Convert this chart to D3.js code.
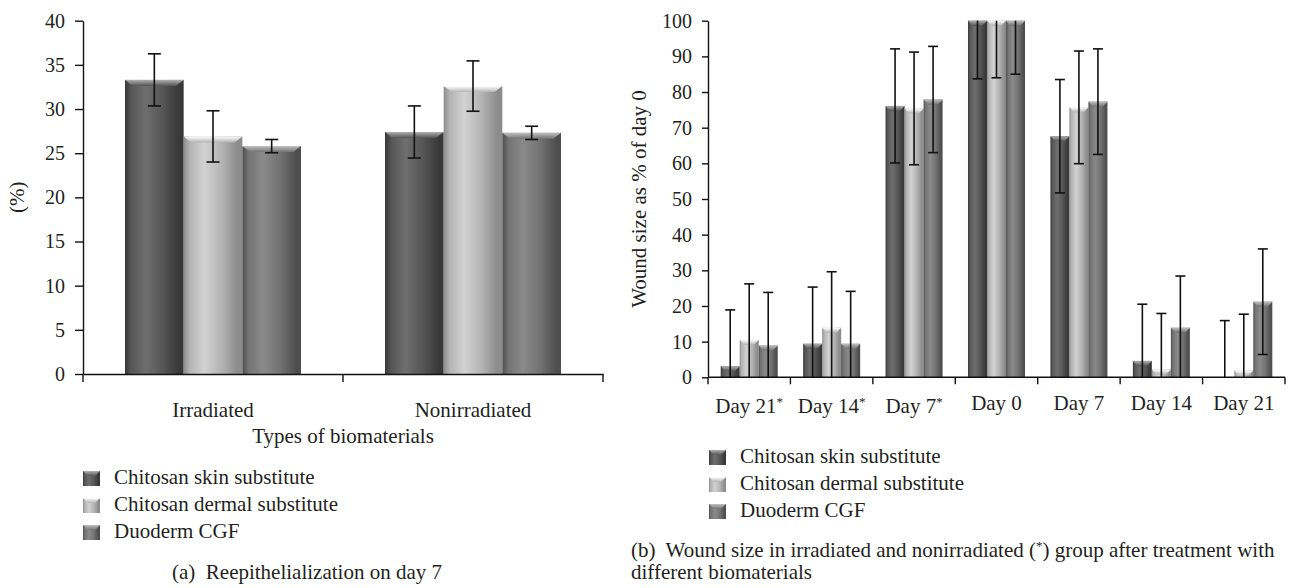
<!DOCTYPE html>
<html><head><meta charset="utf-8">
<script src="https://cdn.jsdelivr.net/npm/d3@7/dist/d3.min.js"></script>
<style>
body{margin:0;background:#fff;}
svg{display:block;}
svg text{fill:#231f20;font-family:"Liberation Serif","DejaVu Serif",serif !important;}
</style></head>
<body><svg id="c" width="1299" height="588"></svg>
<script>
// ---------- data ----------
const seriesNames = ["Chitosan skin substitute","Chitosan dermal substitute","Duoderm CGF"];
// chart (a)
const catsA = ["Irradiated","Nonirradiated"];
const skinA = [33.3, 27.4];
const dermalA = [26.9, 32.6];
const duoA = [25.8, 27.3];
const skinErrA = [2.95, 2.95];
const dermalErrA = [2.9, 2.85];
const duoErrA = [0.75, 0.75];
const ticksA = [0,5,10,15,20,25,30,35,40];
// chart (b)
const catsB = ["Day 21","Day 14","Day 7","Day 0","Day 7","Day 14","Day 21"];
const starredB = [true,true,true,false,false,false,false];
const skinB = [3.1, 9.4, 76.1, 100, 67.6, 4.6, 0];
const dermalB = [10.5, 13.9, 75.4, 100, 75.7, 2.2, 1.9];
const duoB = [8.9, 9.4, 77.9, 100, 77.3, 13.9, 21.2];
const skinErrB = [15.8, 15.9, 16.0, 16.3, 15.9, 15.9, 15.9];
const dermalErrB = [15.7, 15.7, 15.8, 16.0, 15.8, 15.7, 15.8];
const duoErrB = [14.9, 14.7, 14.9, 15.0, 14.8, 14.5, 14.8];
const ticksB = [0,10,20,30,40,50,60,70,80,90,100];

const FS = 21;
const svg = d3.select("#c");
const defs = svg.append("defs");
const palette = [
  {edge:"#383838", mid:"#555555", hi:"#6e6e6e", top:"#b0b0b0"},
  {edge:"#8c8c8c", mid:"#b3b3b3", hi:"#d2d2d2", top:"#ffffff"},
  {edge:"#4e4e4e", mid:"#727272", hi:"#8a8a8a", top:"#c0c0c0"}
];
palette.forEach((p,i)=>{
  const g = defs.append("linearGradient").attr("id","g"+i).attr("x1","0").attr("x2","1").attr("y1","0").attr("y2","0");
  [[0,p.edge],[0.1,p.mid],[0.35,p.hi],[0.65,p.mid],[0.92,p.edge],[1,p.edge]].forEach(s=>g.append("stop").attr("offset",s[0]).attr("stop-color",s[1]));
  const t = defs.append("linearGradient").attr("id","t"+i).attr("x1","0").attr("x2","0").attr("y1","0").attr("y2","1");
  t.append("stop").attr("offset",0).attr("stop-color",p.top);
  t.append("stop").attr("offset",1).attr("stop-color",p.mid);
});

function drawBars(g, x0, x1, y, vals, errs, cap, bevel, ymax){
  const bw = x1.bandwidth();
  vals.forEach((sv,si)=>{
    sv.forEach((v,ci)=>{
      const cx = x0(x0.domain()[ci]) + x1(seriesNames[si]);
      const top = y(v), base = y(0);
      if (v > 0){
        g.append("rect").attr("x",cx).attr("y",top).attr("width",bw).attr("height",base-top).attr("fill","url(#g"+si+")");
        const h = Math.min(bevel, base-top);
        const d = Math.min(h*1.3, bw/4);
        g.append("path").attr("d",`M${cx},${top}L${cx+bw},${top}L${cx+bw-d},${top+h}L${cx+d},${top+h}Z`).attr("fill","url(#t"+si+")");
      }
    });
  });
  vals.forEach((sv,si)=>{
    sv.forEach((v,ci)=>{
      const mx = x0(x0.domain()[ci]) + x1(seriesNames[si]) + bw/2;
      const e = errs[si][ci];
      const hiV = v+e, loV = v-e;
      const yh = y(Math.min(hiV,ymax)), yl = y(Math.max(loV,0));
      g.append("line").attr("x1",mx).attr("x2",mx).attr("y1",yh).attr("y2",yl).attr("stroke","#111").attr("stroke-width",1.6);
      if (hiV <= ymax) g.append("line").attr("x1",mx-cap/2).attr("x2",mx+cap/2).attr("y1",yh).attr("y2",yh).attr("stroke","#111").attr("stroke-width",1.6);
      if (loV >= 0) g.append("line").attr("x1",mx-cap/2).attr("x2",mx+cap/2).attr("y1",yl).attr("y2",yl).attr("stroke","#111").attr("stroke-width",1.6);
    });
  });
}

function legend(x, y0, dy){
  const g = svg.append("g");
  seriesNames.forEach((n,i)=>{
    const y = y0 + i*dy;
    g.append("rect").attr("x",x).attr("y",y-7).attr("width",17).attr("height",15).attr("fill","url(#g"+i+")");
    g.append("path").attr("d",`M${x},${y-7}L${x+17},${y-7}L${x+12},${y-2}L${x+5},${y-2}Z`).attr("fill","url(#t"+i+")");
    g.append("text").attr("x",x+31).attr("y",y+6).attr("font-size",FS).text(n);
  });
}

function styleAxis(ax, fs){
  ax.attr("font-family",null);
  ax.select(".domain").attr("stroke","#111").attr("stroke-width",1.4);
  ax.selectAll(".tick line").attr("stroke","#111").attr("stroke-width",1.4);
  ax.selectAll(".tick text").attr("font-size",fs).attr("fill","#231f20");
}

// ---------- chart (a) ----------
{
  const L=83, R=603, T=20.7, B=374;
  const y = d3.scaleLinear().domain([0,40]).range([B,T]);
  const x0 = d3.scaleBand().domain(catsA).range([L,R]);
  const x1 = d3.scaleBand().domain(seriesNames).range([0,x0.bandwidth()]).paddingInner(0).paddingOuter(0.716);
  const g = svg.append("g");
  drawBars(g, x0, x1, y, [skinA,dermalA,duoA], [skinErrA,dermalErrA,duoErrA], 13, 6, 40);
  const ya = svg.append("g").attr("transform",`translate(${L},0)`).call(d3.axisLeft(y).tickValues(ticksA).tickSize(8).tickSizeOuter(0).tickPadding(10));
  styleAxis(ya, 20);
  const xa = svg.append("g").attr("transform",`translate(0,${B})`).call(d3.axisBottom(x0).tickSize(0).tickPadding(28));
  styleAxis(xa, FS);
  const bounds = catsA.map(c=>x0(c)).concat([R]);
  svg.append("g").selectAll("line").data(bounds).join("line").attr("x1",d=>d).attr("x2",d=>d).attr("y1",B).attr("y2",B+8).attr("stroke","#111").attr("stroke-width",1.4);
  svg.append("text").attr("x",(L+R)/2).attr("y",443).attr("text-anchor","middle").attr("font-size",FS).text("Types of biomaterials");
  svg.append("text").attr("transform",`translate(24,${(T+B)/2}) rotate(-90)`).attr("text-anchor","middle").attr("font-size",FS).text("(%)");
  legend(83, 478, 27);
  svg.append("text").attr("x",172).attr("y",579).attr("font-size",FS).style("white-space","pre").text("(a)  Reepithelialization on day 7");
}

// ---------- chart (b) ----------
{
  const L=708, R=1285, T=20.7, B=377.3;
  const y = d3.scaleLinear().domain([0,100]).range([B,T]);
  const idx = catsB.map((c,i)=>i);
  const x0 = d3.scaleBand().domain(idx).range([L,R]);
  const x1 = d3.scaleBand().domain(seriesNames).range([0,x0.bandwidth()]).paddingInner(0).paddingOuter(0.668);
  const g = svg.append("g");
  drawBars(g, x0, x1, y, [skinB,dermalB,duoB], [skinErrB,dermalErrB,duoErrB], 10, 5, 100);
  const ya = svg.append("g").attr("transform",`translate(${L},0)`).call(d3.axisLeft(y).tickValues(ticksB).tickSize(6).tickSizeOuter(0).tickPadding(10));
  styleAxis(ya, 20);
  svg.append("line").attr("x1",L).attr("x2",R).attr("y1",B).attr("y2",B).attr("stroke","#111").attr("stroke-width",1.4);
  const bounds = idx.map(i=>x0(i)).concat([R]);
  svg.append("g").selectAll("line").data(bounds).join("line").attr("x1",d=>d).attr("x2",d=>d).attr("y1",B).attr("y2",B+7).attr("stroke","#111").attr("stroke-width",1.4);
  const lab = svg.append("g").selectAll("text").data(idx).join("text")
    .attr("x",i=>x0(i)+x0.bandwidth()/2).attr("y",i=>starredB[i]?413:410)
    .attr("text-anchor","middle").attr("font-size",FS);
  lab.append("tspan").text(i=>catsB[i]);
  lab.filter(i=>starredB[i]).append("tspan").attr("dy",-7).attr("font-size",13).text("*");
  svg.append("text").attr("transform",`translate(646,${(T+B)/2}) rotate(-90)`).attr("text-anchor","middle").attr("font-size",FS).text("Wound size as % of day 0");
  legend(709, 457, 27);
  const c1 = svg.append("text").attr("x",631).attr("y",557).attr("font-size",FS).style("white-space","pre");
  c1.append("tspan").text("(b)  Wound size in irradiated and nonirradiated (");
  c1.append("tspan").attr("dy",-7).attr("font-size",13).text("*");
  c1.append("tspan").attr("dy",7).text(") group after treatment with");
  svg.append("text").attr("x",631).attr("y",579).attr("font-size",FS).text("different biomaterials");
}
</script></body></html>
